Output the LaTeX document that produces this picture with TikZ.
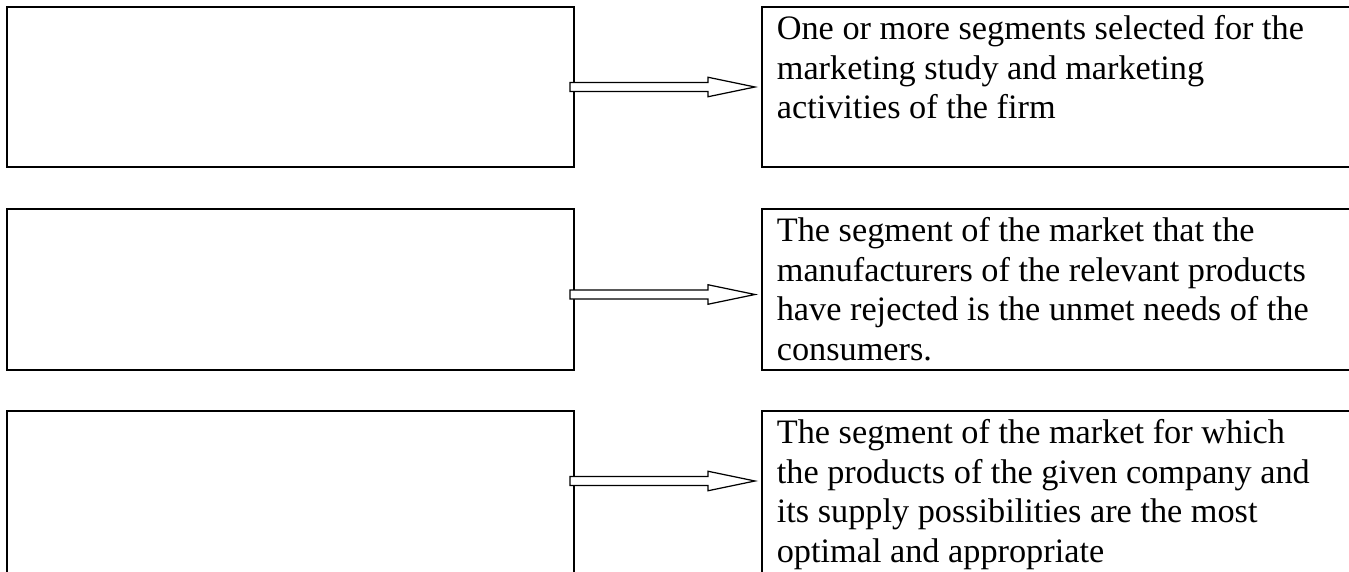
\documentclass[tikz,border=0pt]{standalone}
\usepackage{fontspec}
\setmainfont{Liberation Serif}
\usetikzlibrary{calc}

\newcommand{\hollowarrow}[2]{%
  \draw[arrowline] ($(#1)+(0,0.09)$) -- ($(#2)+(-0.94,0.09)$) -- ($(#2)+(-0.94,0.195)$)
    -- (#2) -- ($(#2)+(-0.94,-0.195)$) -- ($(#2)+(-0.94,-0.09)$) -- ($(#1)+(0,-0.09)$) -- cycle;}

\begin{document}
\begin{tikzpicture}[
  termbox/.style={draw, line width=1.1pt, rectangle, anchor=north west, minimum width=11.34cm, inner sep=0pt, outer sep=0pt},
  defbox/.style={draw, line width=1pt, rectangle, anchor=north west, minimum width=12.5cm, inner sep=0pt, outer sep=0pt},
  deftext/.style={anchor=north west, align=left, inner xsep=0.29cm, inner ysep=0.17cm, font=\fontsize{19.5pt}{22.4pt}\selectfont},
  arrowline/.style={draw, fill=white, line width=0.7pt, line join=miter}
]
\useasboundingbox (0,0) rectangle (26.98,11.42);
\clip (0,0) rectangle (26.98,11.42);

\node[termbox, minimum height=3.2cm] (term1) at (0.14,11.28) {};
\node[termbox, minimum height=3.22cm] (term2) at (0.14,7.24) {};
\node[termbox, minimum height=4cm] (term3) at (0.14,3.2) {};

\node[defbox, minimum height=3.2cm] (def1) at (15.24,11.28) {};
\node[defbox, minimum height=3.22cm] (def2) at (15.24,7.24) {};
\node[defbox, minimum height=4cm] (def3) at (15.24,3.2) {};

\node[deftext] (text1) at (def1.north west) {One or more segments selected for the\\ marketing study and marketing\\ activities of the firm};
\node[deftext] (text2) at (def2.north west) {The segment of the market that the\\ manufacturers of the relevant products\\ have rejected is the unmet needs of the\\ consumers.};
\node[deftext] (text3) at (def3.north west) {The segment of the market for which\\ the products of the given company and\\ its supply possibilities are the most\\ optimal and appropriate};

\coordinate (from1) at ($(term1.north east)+(-0.08,-1.6)$);
\coordinate (tip1) at ($(def1.north west)+(-0.14,-1.6)$);
\coordinate (from2) at ($(term2.north east)+(-0.08,-1.71)$);
\coordinate (tip2) at ($(def2.north west)+(-0.14,-1.71)$);
\coordinate (from3) at ($(term3.north east)+(-0.08,-1.4)$);
\coordinate (tip3) at ($(def3.north west)+(-0.14,-1.4)$);

\hollowarrow{from1}{tip1}
\hollowarrow{from2}{tip2}
\hollowarrow{from3}{tip3}
\end{tikzpicture}
\end{document}
